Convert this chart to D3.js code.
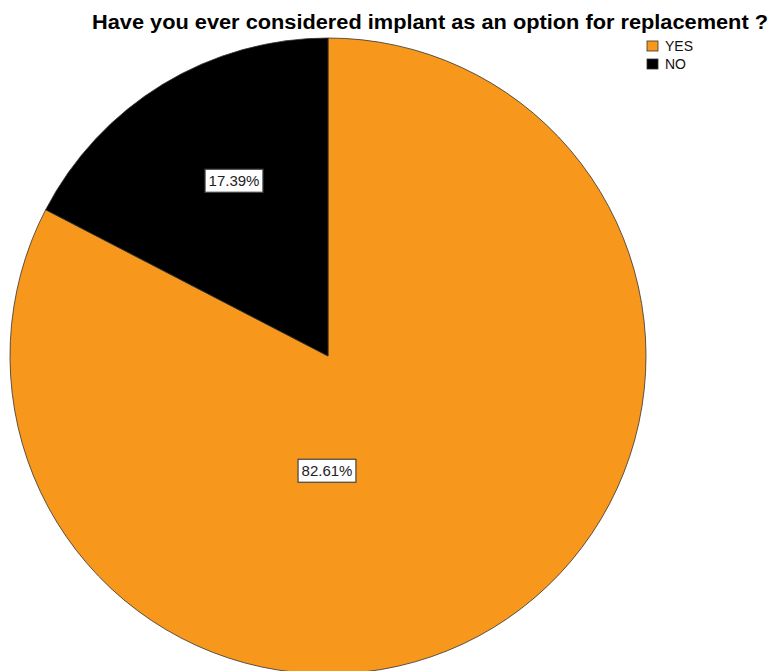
<!DOCTYPE html>
<html lang="en">
<head>
    <meta charset="UTF-8">
    <title>Implant pie</title>
    <style>
        body { margin: 0; padding: 0; background: #ffffff; overflow: hidden; }
        svg { display: block; }
        text { font-family: "Liberation Sans", Arial, sans-serif; }
    </style>
</head>
<body>
    <script src="https://d3js.org/d3.v7.min.js"></script>
    <script>
        const title = 'Have you ever considered implant as an option for replacement ?';
        const categories = ['YES', 'NO'];
        const values = [82.61, 17.39];
        const colors = ['#f7981d', '#000000'];

        const width = 772, height = 671;
        const cx = 328, cy = 356, radius = 318;

        const svg = d3.select('body').append('svg')
            .attr('width', width)
            .attr('height', height);

        // title
        svg.append('text')
            .attr('x', 92)
            .attr('y', 29)
            .attr('font-size', 19.5)
            .attr('font-weight', 'bold')
            .attr('textLength', 676)
            .attr('lengthAdjust', 'spacingAndGlyphs')
            .attr('fill', '#000')
            .text(title);

        const pie = d3.pie().sort(null).value(d => d)(values);
        const arc = d3.arc().innerRadius(0).outerRadius(radius);

        const g = svg.append('g').attr('transform', `translate(${cx},${cy})`);

        g.selectAll('path.slice')
            .data(pie)
            .enter()
            .append('path')
            .attr('class', 'slice')
            .attr('d', arc)
            .attr('fill', (d, i) => colors[i])
            .attr('stroke', '#333')
            .attr('stroke-width', 0.8);

        // label offsets from pie centre, as SPSS places them
        const labelPos = [[-1, 115], [-94, -175]];

        const labels = g.selectAll('g.lab')
            .data(pie)
            .enter()
            .append('g')
            .attr('class', 'lab')
            .attr('transform', (d, i) => `translate(${labelPos[i][0]},${labelPos[i][1]})`);

        labels.append('text')
            .attr('text-anchor', 'middle')
            .attr('dy', '0.35em')
            .attr('font-size', 15)
            .attr('fill', '#222')
            .text(d => d.data.toFixed(2) + '%')
            .each(function () {
                const b = this.getBBox();
                d3.select(this.parentNode).insert('rect', 'text')
                    .attr('x', b.x - 3.5)
                    .attr('y', b.y - 3)
                    .attr('width', b.width + 7)
                    .attr('height', b.height + 6)
                    .attr('fill', '#fff')
                    .attr('stroke', '#444')
                    .attr('stroke-width', 1.2);
            });

        // legend
        const legend = svg.append('g').attr('transform', 'translate(647,41)');
        const items = legend.selectAll('g')
            .data(categories)
            .enter()
            .append('g')
            .attr('transform', (d, i) => `translate(0,${i * 18})`);
        items.append('rect')
            .attr('width', 11)
            .attr('height', 10)
            .attr('fill', (d, i) => colors[i])
            .attr('stroke', '#333')
            .attr('stroke-width', 0.8);
        items.append('text')
            .attr('x', 18)
            .attr('y', 10)
            .attr('font-size', 14)
            .attr('fill', '#111')
            .text(d => d);
    </script>
</body>
</html>
